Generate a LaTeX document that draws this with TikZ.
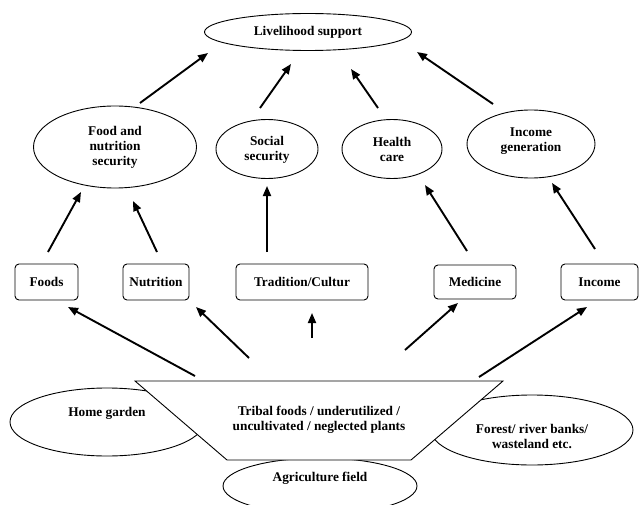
\documentclass[tikz,border=0pt]{standalone}
\usepackage{fontspec}
\setmainfont{Liberation Serif}
\usetikzlibrary{shapes.geometric,arrows.meta}
\begin{document}
\begin{tikzpicture}[x=1pt,y=-1pt,
  font=\fontsize{13.3}{15}\selectfont\bfseries,
  oval/.style={draw,ellipse,line width=0.9pt,inner sep=0pt,fill=white},
  box/.style={draw,rounded corners=4pt,line width=0.9pt,inner sep=0pt,minimum height=36pt,fill=white},
  lbl/.style={align=center,inner sep=0pt},
  arr/.style={line width=1.9pt,-{Triangle[length=10pt,width=8pt]}}]
\useasboundingbox (0,0) rectangle (639,505);
\clip (0,0) rectangle (639,505);
% top
\node[oval,minimum width=207pt,minimum height=37pt] (live) at (308,32) {};
\node[lbl] (livet) at (308,32) {Livelihood support};
% second row ellipses
\node[oval,minimum width=163pt,minimum height=82pt] (food) at (115,147) {};
\node[lbl] (foodt) at (115,147) {Food and\\nutrition\\security};
\node[oval,minimum width=102pt,minimum height=59pt] (social) at (267,149) {};
\node[lbl] (socialt) at (267,149.5) {Social\\security};
\node[oval,minimum width=100pt,minimum height=59pt] (health) at (392,149) {};
\node[lbl] (healtht) at (392,149.5) {Health\\care};
\node[oval,minimum width=128pt,minimum height=68pt] (incg) at (531,144) {};
\node[lbl] (incgt) at (531,141) {Income\\generation};
% boxes
\node[box,minimum width=63pt] (foods) at (46.5,282) {Foods};
\node[box,minimum width=66pt] (nutr) at (156,282) {Nutrition};
\node[box,minimum width=132pt] (trad) at (302,282) {Tradition/Cultur};
\node[box,minimum width=82pt,minimum height=34pt] (med) at (475,282) {Medicine};
\node[box,minimum width=77pt] (inc) at (599.5,282) {Income};
% bottom sources
\node[oval,minimum width=194pt,minimum height=68pt] (home) at (107,422) {};
\node[lbl] (homet) at (107,413) {Home garden};
\node[oval,minimum width=202pt,minimum height=70pt] (forest) at (532,430) {};
\node[lbl] (forestt) at (532,436) {Forest/ river banks/\\wasteland etc.};
\node[oval,minimum width=194pt,minimum height=56pt] (agri) at (320,486) {};
\node[lbl] (agrit) at (320,478) {Agriculture field};
% trapezoid
\coordinate (tl) at (135,381);
\coordinate (tr) at (503,381);
\coordinate (br) at (411,460);
\coordinate (bl) at (227,460);
\draw[line width=0.9pt,fill=white] (tl) -- (tr) -- (br) -- (bl) -- cycle;
\node[lbl] (tribal) at (319,419.5) {Tribal foods / underutilized /\\uncultivated / neglected plants};
% arrow end points
\coordinate (a1s) at (140,103); \coordinate (a1e) at (208,53);
\coordinate (a2s) at (260,108); \coordinate (a2e) at (291,64);
\coordinate (a3s) at (378,108); \coordinate (a3e) at (351,69);
\coordinate (a4s) at (493,104); \coordinate (a4e) at (417,52);
\coordinate (b1s) at (48,252); \coordinate (b1e) at (81,192);
\coordinate (b2s) at (157,252); \coordinate (b2e) at (133,201);
\coordinate (b3s) at (267,252); \coordinate (b3e) at (267,186);
\coordinate (b4s) at (467,251); \coordinate (b4e) at (425,185);
\coordinate (b5s) at (595,249); \coordinate (b5e) at (552,183);
\coordinate (c1s) at (195,376); \coordinate (c1e) at (68,307);
\coordinate (c2s) at (249,358); \coordinate (c2e) at (196,307);
\coordinate (c3s) at (312,338); \coordinate (c3e) at (312,313);
\coordinate (c4s) at (405,350); \coordinate (c4e) at (458,303);
\coordinate (c5s) at (479,377); \coordinate (c5e) at (587,307);
\foreach \p in {a1,a2,a3,a4,b1,b2,b3,b4,b5,c1,c2,c3,c4,c5}
  \draw[arr] (\p s) -- (\p e);
\end{tikzpicture}
\end{document}
